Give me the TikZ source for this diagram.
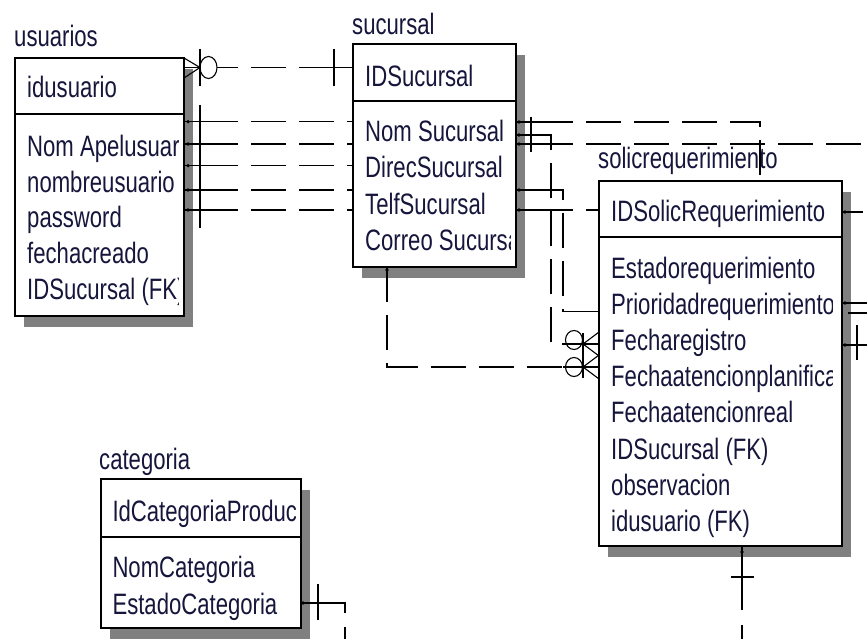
\documentclass[tikz,border=0pt]{standalone}
\usepackage{fontspec}
\setmainfont{Liberation Sans}[FakeStretch=0.75]
\usetikzlibrary{positioning}
\definecolor{ertext}{RGB}{22,22,60}

\begin{document}
\begin{tikzpicture}[
    x=1pt, y=-1pt,
    font=\fontsize{29.5}{35}\selectfont,
    kbox/.style={rectangle, draw=black, line width=2pt, fill=white, anchor=north west,
                 outer sep=0pt, inner sep=0pt},
    shdw/.style={fill=black!50},
    ttl/.style={anchor=base west, inner sep=0pt, text=ertext},
    att/.style={anchor=base west, inner sep=0pt, text=ertext},
    rel/.style={line width=1.6pt, dash pattern=on 35pt off 13pt},
    stub/.style={line width=1.6pt},
    ring/.style={line width=1.1pt},
]

\useasboundingbox (0,0) rectangle (867,639);
\clip (0,0) rectangle (867,639);
\fill[white] (0,0) rectangle (867,639);

% Shadows
\fill[shdw] (24,69) rectangle (193,327);
\fill[shdw] (362,55) rectangle (525,278);
\fill[shdw] (608,192) rectangle (851,557);
\fill[shdw] (110,490) rectangle (310,639);

% usuarios
\node[kbox, minimum width=169pt, minimum height=56pt] (usrK) at (15,58) {};
\node[kbox, minimum width=169pt, minimum height=202pt, below=0pt of usrK] (usrA) {};
\node[ttl] (usrT) at ([xshift=-1pt, yshift=11.3pt]usrK.north west) {usuarios};
\begin{scope}
\clip (usrK.north west) rectangle ([xshift=-6pt]usrA.south east);
\node[att] (usrId) at (27,98) {idusuario};
\foreach \a [count=\i] in {Nom Apelusuar, nombreusuario, password, fechacreado, IDSucursal (FK)}
    \node[att] (usrAt\i) at (27,{121+35.6*\i}) {\a};
\end{scope}

% sucursal
\node[kbox, minimum width=163pt, minimum height=57pt] (sucK) at (353,44) {};
\node[kbox, minimum width=163pt, minimum height=166pt, below=0pt of sucK] (sucA) {};
\node[ttl] (sucT) at ([xshift=-1pt, yshift=9pt]sucK.north west) {sucursal};
\begin{scope}
\clip (sucK.north west) rectangle ([xshift=-6pt]sucA.south east);
\node[att] (sucId) at (365,86.5) {IDSucursal};
\foreach \a [count=\i] in {Nom Sucursal, DirecSucursal, TelfSucursal, Correo Sucursal}
    \node[att] (sucAt\i) at (365,{105+36.5*\i}) {\a};
\end{scope}

% solicrequerimiento
\node[kbox, minimum width=243pt, minimum height=56pt] (solK) at (599,181) {};
\node[kbox, minimum width=243pt, minimum height=309pt, below=0pt of solK] (solA) {};
\node[ttl] (solT) at ([xshift=-1pt, yshift=12.7pt]solK.north west) {solicrequerimiento};
\begin{scope}
\clip (solK.north west) rectangle ([xshift=-10pt]solA.south east);
\node[att] (solId) at (611,221.7) {IDSolicRequerimiento};
\foreach \a [count=\i] in {Estadorequerimiento, Prioridadrequerimiento, Fecharegistro,
    Fechaatencionplanifica, Fechaatencionreal, IDSucursal (FK), observacion, idusuario (FK)}
    \node[att] (solAt\i) at (611,{241.8+36.2*\i}) {\a};
\end{scope}

% categoria
\node[kbox, minimum width=200pt, minimum height=58pt] (catK) at (101,479) {};
\node[kbox, minimum width=200pt, minimum height=91pt, below=0pt of catK] (catA) {};
\node[ttl] (catT) at ([xshift=-2pt, yshift=10pt]catK.north west) {categoria};
\begin{scope}
\clip (catK.north west) rectangle ([xshift=-6pt]catA.south east);
\node[att] (catId) at (112.3,521.7) {IdCategoriaProduc};
\node[att] (catAt1) at (112.3,577) {NomCategoria};
\node[att] (catAt2) at (112.3,614.5) {EstadoCategoria};
\end{scope}

% usuarios - sucursal
\coordinate (cf) at (200,67.5);
\draw[ring] (usrK.north east) -- (cf) -- (usrK.east |- 0,78);
\draw[ring] (usrK.east |- cf) -- (cf);
\draw[stub] (200,49) -- (200,86);
\draw[ring] (208.5,67.5) ellipse [x radius=8.5pt, y radius=11pt];
\draw[stub] (217,67.5) -- (238,67.5);
\draw[rel, dash phase=35pt] (238,67.5) -- (sucK.west |- cf);
\draw[stub] (334,49) -- (334,86);
\draw[stub] (334,67.5) -- (sucK.west |- cf);

\foreach \y in {121.7,144,165.7,190,210} {
    \draw[stub] (usrA.east |- 0,\y) -- (238,\y);
    \draw[rel, dash phase=35pt] (238,\y) -- (sucA.west |- 0,\y);
    \fill (188,\y) circle (1.8pt);
}
\draw[stub] (200,105) -- (200,228);

% sucursal - solicrequerimiento
\draw[stub] (sucA.east |- 0,122) -- (538,122);
\draw[rel] (538,122) -- (760,122) -- (760,0 |- solK.north);
\draw[stub] (sucA.east |- 0,135) -- (551,135) -- (551,150);
\draw[rel, dash phase=35pt] (551,150) -- (551,344) -- (583,344);
\draw[stub] (sucA.east |- 0,144) -- (538,144);
\draw[rel] (538,144) -- (867,144);
\draw[stub] (sucA.east |- 0,190) -- (563,190) -- (563,200);
\draw[rel, dash phase=35pt] (563,200) -- (563,311.5) -- (solA.west |- 0,311.5);
\draw[stub] (575,311.5) -- (solA.west |- 0,311.5);
\draw[stub] (sucA.east |- 0,210) -- (538,210);
\draw[rel] (538,210) -- (solK.west |- 0,210);
\draw[stub] (531,117) -- (531,152);
\foreach \y in {122,135,144,190,210}
    \fill (519,\y) circle (1.8pt);

\draw[rel] (387,0 |- sucA.south) -- (387,367) -- (563,367);
\fill (387,270) circle (1.8pt);

% zero or many
\draw[stub] (583,333) -- (583,378);
\foreach \y/\c in {344/340, 367/367} {
    \draw[stub] (563,\y) -- (solA.west |- 0,\y);
    \draw[ring] (solA.west |- 0,\y) ++(0,-12) -- (583,\y) -- ++(16,12);
    \draw[ring] (574,\c) ellipse [x radius=8.5pt, y radius=9.5pt];
}

% solicrequerimiento right
\draw[stub] (solK.east |- 0,212) -- (863,212);
\draw[stub] (solA.east |- 0,303) -- (867,303);
\draw[stub] (848,313) -- (867,313);
\draw[stub] (solA.east |- 0,345) -- (867,345);
\draw[stub] (857,325) -- (857,360);
\foreach \y in {212,303,345}
    \fill (845,\y) circle (1.8pt);

% solicrequerimiento bottom
\draw[stub] (solA.south -| 742,0) -- (742,610);
\draw[stub] (731,577) -- (754,577);
\draw[stub] (742,625) -- (742,639);
\fill (742,552) circle (1.8pt);

% categoria
\draw[stub] (catA.east |- 0,603) -- (345,603) -- (345,613);
\draw[stub] (318,584) -- (318,620);
\draw[stub] (345,627) -- (345,639);
\fill (303,603) circle (1.8pt);

\end{tikzpicture}
\end{document}
